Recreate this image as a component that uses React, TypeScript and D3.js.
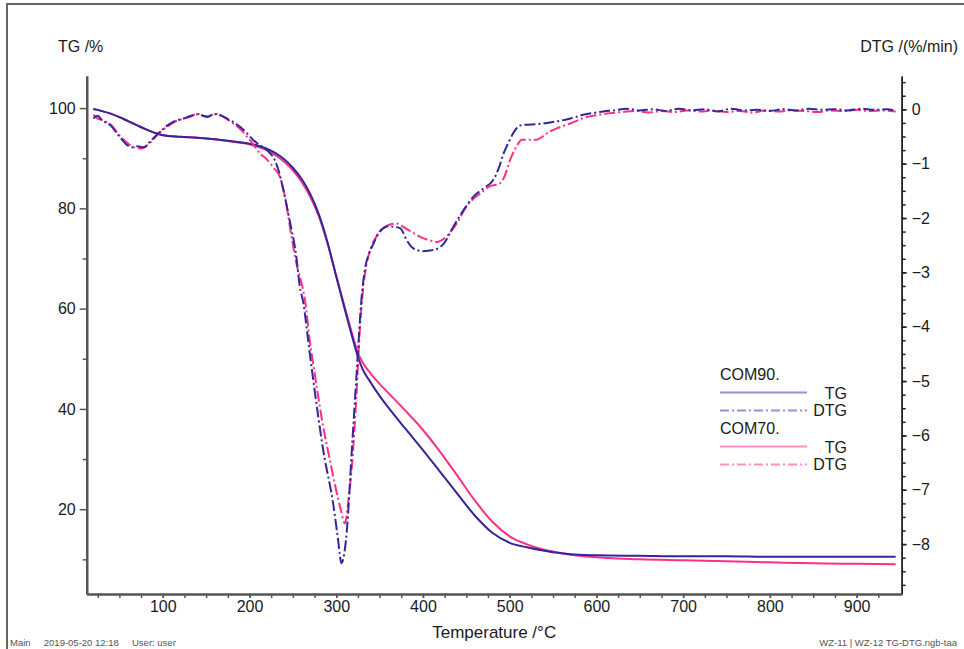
import React, { useEffect, useRef } from 'react';
import * as d3 from 'd3';

// TG grid (°C) and mass (%) for both samples
const tgTemp = [20, 30, 40, 50, 60, 70, 80, 90, 100, 120, 140, 160, 180, 200, 210, 220, 230, 240, 250, 260, 270, 280, 290, 300, 310, 320, 325, 330, 340, 350, 360, 380, 400, 420, 440, 460, 480, 500, 520, 540, 560, 580, 600, 650, 700, 750, 800, 850, 900, 945];
const tg90 = [99.8, 99.4, 98.9, 98.2, 97.4, 96.6, 95.8, 95.1, 94.6, 94.3, 94.1, 93.8, 93.4, 92.9, 92.5, 91.9, 91.0, 89.8, 88.1, 85.9, 82.9, 78.8, 73.2, 66.4, 59.8, 53.4, 50.4, 48.1, 45.2, 42.6, 40.3, 36.0, 31.8, 27.4, 23.0, 18.7, 15.3, 13.3, 12.4, 11.7, 11.2, 10.9, 10.8, 10.7, 10.6, 10.6, 10.5, 10.5, 10.5, 10.5];
const tg70 = [99.8, 99.4, 98.9, 98.2, 97.4, 96.6, 95.8, 95.1, 94.6, 94.3, 94.1, 93.8, 93.3, 92.8, 92.3, 91.6, 90.6, 89.3, 87.6, 85.3, 82.3, 78.4, 73.0, 66.6, 60.2, 54.0, 51.2, 49.4, 47.0, 45.0, 43.2, 39.6, 35.8, 31.4, 26.6, 21.7, 17.5, 14.6, 13.0, 11.9, 11.2, 10.7, 10.4, 10.0, 9.8, 9.6, 9.4, 9.2, 9.1, 9.0];

// DTG (%/min)
const dtg90Temp = [20, 25, 30, 40, 50, 60, 65, 70, 78, 85, 95, 105, 112, 124, 132, 139, 145, 151, 157, 162, 168, 174, 182, 189, 197, 204, 212, 220, 229, 234, 239, 247, 254, 258, 262, 268, 274, 285, 297, 302, 306, 309, 312, 318, 324, 329, 333, 338, 343, 348, 354, 360, 366, 374, 381, 389, 400, 412, 424, 435, 447, 458, 470, 481, 487, 493, 499, 504, 509, 514, 525, 539, 555, 570, 585, 600, 608, 620, 635, 650, 665, 680, 695, 710, 725, 740, 755, 770, 785, 800, 815, 830, 845, 860, 875, 890, 905, 920, 935, 945];
const dtg90 = [-0.17, -0.12, -0.2, -0.3, -0.5, -0.67, -0.7, -0.68, -0.7, -0.6, -0.44, -0.3, -0.23, -0.17, -0.12, -0.09, -0.11, -0.14, -0.1, -0.09, -0.12, -0.17, -0.24, -0.32, -0.44, -0.56, -0.66, -0.75, -0.93, -1.15, -1.48, -2.1, -2.71, -3.26, -3.55, -4.3, -5.04, -6.27, -7.31, -7.9, -8.35, -8.2, -7.8, -6.27, -4.74, -3.51, -2.95, -2.65, -2.47, -2.3, -2.19, -2.15, -2.16, -2.19, -2.4, -2.56, -2.61, -2.59, -2.47, -2.16, -1.85, -1.61, -1.45, -1.3, -1.1, -0.81, -0.6, -0.44, -0.33, -0.29, -0.28, -0.26, -0.22, -0.17, -0.1, -0.06, -0.04, -0.02, 0.01, -0.02, 0.0, -0.03, 0.01, -0.02, 0.0, -0.04, 0.01, -0.02, -0.01, -0.03, 0.0, -0.02, 0.01, -0.01, 0.0, -0.02, 0.01, -0.01, 0.0, -0.03];
const dtg70Temp = [20, 25, 30, 40, 50, 60, 67, 75, 85, 95, 105, 115, 125, 133, 140, 147, 153, 160, 167, 174, 182, 190, 198, 205, 212, 220, 228, 235, 242, 248, 255, 260, 264, 269, 274, 285, 292, 299, 305, 310, 314, 318, 323, 327, 331, 335, 340, 346, 352, 358, 364, 370, 376, 386, 400, 408, 416, 427, 439, 450, 458, 466, 477, 489, 493, 502, 508, 514, 522, 531, 538, 543, 556, 570, 589, 603, 616, 630, 645, 660, 675, 690, 705, 720, 735, 750, 765, 780, 795, 810, 825, 840, 855, 870, 885, 900, 915, 930, 945];
const dtg70 = [-0.1, -0.17, -0.2, -0.28, -0.48, -0.63, -0.7, -0.72, -0.62, -0.45, -0.32, -0.22, -0.17, -0.13, -0.08, -0.12, -0.13, -0.08, -0.11, -0.18, -0.27, -0.37, -0.52, -0.66, -0.81, -0.92, -1.08, -1.24, -1.7, -2.3, -2.9, -3.2, -3.51, -4.2, -4.74, -5.84, -6.4, -6.94, -7.35, -7.62, -7.2, -6.58, -5.35, -4.12, -3.3, -2.85, -2.55, -2.35, -2.22, -2.15, -2.11, -2.1, -2.15, -2.25, -2.37, -2.41, -2.44, -2.34, -2.1, -1.79, -1.65, -1.55, -1.42, -1.36, -1.27, -0.87, -0.68, -0.56, -0.56, -0.56, -0.5, -0.44, -0.34, -0.26, -0.14, -0.1, -0.07, -0.05, -0.03, -0.06, -0.03, -0.05, -0.02, -0.04, -0.02, -0.05, -0.03, -0.06, -0.02, -0.04, -0.02, -0.03, -0.05, -0.02, -0.03, -0.01, -0.03, -0.02, -0.04];

const xTicks = [100, 200, 300, 400, 500, 600, 700, 800, 900];
const tgTicks = [20, 40, 60, 80, 100];
const dtgTicks = [-8, -7, -6, -5, -4, -3, -2, -1, 0];

const samples = ['COM90.', 'COM70.'];
const colors = ['#35259a', '#ff2f86'];
const legendColors = ['#9a8fd0', '#ff8fc0'];

const FONT = '"Liberation Sans", Arial, sans-serif';
const DASH = '11,3,2,3';

const App = () => {
	const leftRef = useRef<SVGGElement>(null);
	const rightRef = useRef<SVGGElement>(null);
	const bottomRef = useRef<SVGGElement>(null);

	const top = 76, bottom = 594, left = 86.7, right = 901.7;

	const x = d3.scaleLinear().domain([12.3, 952]).range([left, right]);
	const yL = d3.scaleLinear().domain([3.09, 106.4]).range([bottom, top]);
	const yR = d3.scaleLinear().domain([-8.918, 0.613]).range([bottom, top]);

	useEffect(() => {
		const style = (g: any, w: number, c: string) => {
			g.select('.domain').attr('stroke', c).attr('stroke-width', w);
			g.selectAll('.tick line').attr('stroke', c).attr('stroke-width', 1.5);
			g.selectAll('text').attr('font-family', FONT).attr('font-size', 16).attr('fill', '#1a1a1a');
		};

		const gl = d3.select(leftRef.current);
		gl.selectAll('*').remove();
		gl.append('g').call(d3.axisLeft(yL).tickValues([10, 30, 50, 70, 90]).tickSize(4).tickSizeOuter(0).tickFormat(() => ''))
			.call((g: any) => style(g, 2.2, '#555'));
		gl.append('g').call(d3.axisLeft(yL).tickValues(tgTicks).tickSize(7).tickSizeOuter(0).tickPadding(4))
			.call((g: any) => style(g, 2.2, '#555'));

		const gr = d3.select(rightRef.current);
		gr.selectAll('*').remove();
		const minorR = d3.range(-35, 3).map((i) => i * 0.25);
		gr.append('g').call(d3.axisRight(yR).tickValues(minorR).tickSize(4).tickSizeOuter(0).tickFormat(() => ''))
			.call((g: any) => style(g, 1.5, '#222'));
		gr.append('g').call(d3.axisRight(yR).tickValues(dtgTicks).tickSize(5).tickSizeOuter(0).tickPadding(5))
			.call((g: any) => style(g, 1.5, '#222'));

		const gb = d3.select(bottomRef.current);
		gb.selectAll('*').remove();
		const minorX = d3.range(1, 38).map((i) => i * 25);
		gb.append('g').call(d3.axisBottom(x).tickValues(minorX).tickSize(4).tickSizeOuter(0).tickFormat(() => ''))
			.call((g: any) => style(g, 2.2, '#555'));
		gb.append('g').call(d3.axisBottom(x).tickValues(xTicks).tickSize(4).tickSizeOuter(0).tickPadding(3))
			.call((g: any) => style(g, 2.2, '#555'));
	}, []);

	const tgLine = d3.line<number>()
		.x((d, i) => x(tgTemp[i]))
		.y((d) => yL(d))
		.curve(d3.curveMonotoneX);

	const dtgLine = (temps: number[]) => d3.line<number>()
		.x((d, i) => x(temps[i]))
		.y((d) => yR(d))
		.curve(d3.curveMonotoneX);

	const legendX = 720;
	const legendY = [374, 428];

	return (
		<div>
			<style>{'body{margin:0;overflow:hidden}'}</style>
			<svg width={964} height={649} style={{ display: 'block' }} fontFamily={FONT}>
				<rect x={0} y={0} width={964} height={649} fill="#fff" />
				<path d="M7,660 L7,4 L970,4" fill="none" stroke="#666" strokeWidth={2} />

				<text x={58} y={52} fontSize={16} fill="#1a1a1a">TG /%</text>
				<text x={958} y={52} fontSize={16} fill="#1a1a1a" textAnchor="end">DTG /(%/min)</text>

				<path d={tgLine(tg70) || ''} fill="none" stroke={colors[1]} strokeWidth={2} />
				<path d={tgLine(tg90) || ''} fill="none" stroke={colors[0]} strokeWidth={2} />
				<path d={dtgLine(dtg70Temp)(dtg70) || ''} fill="none" stroke={colors[1]} strokeWidth={2} strokeDasharray={DASH} />
				<path d={dtgLine(dtg90Temp)(dtg90) || ''} fill="none" stroke={colors[0]} strokeWidth={2} strokeDasharray={DASH} />

				<g ref={leftRef} transform={`translate(${left},0)`} />
				<g ref={rightRef} transform={`translate(${right},0)`} />
				<g ref={bottomRef} transform={`translate(0,${bottom})`} />

				<text x={(left + right) / 2} y={638} fontSize={17} fill="#1a1a1a" textAnchor="middle">Temperature /°C</text>

				{samples.map((s, i) => (
					<g key={s}>
						<text x={legendX} y={legendY[i] + 6} fontSize={16} fill="#1a1a1a">{s}</text>
						<line x1={legendX} x2={807} y1={legendY[i] + 18.5} y2={legendY[i] + 18.5} stroke={legendColors[i]} strokeWidth={2} />
						<text x={847} y={legendY[i] + 25} fontSize={16} fill="#1a1a1a" textAnchor="end">TG</text>
						<line x1={legendX} x2={807} y1={legendY[i] + 36.5} y2={legendY[i] + 36.5} stroke={legendColors[i]} strokeWidth={2} strokeDasharray="9,3,2,3" />
						<text x={847} y={legendY[i] + 42} fontSize={16} fill="#1a1a1a" textAnchor="end">DTG</text>
					</g>
				))}

				<text x={10} y={646} fontSize={9.5} fill="#555" xmlSpace="preserve">Main     2019-05-20 12:18     User: user</text>
				<text x={957} y={646} fontSize={9.5} fill="#555" textAnchor="end">WZ-11 | WZ-12 TG-DTG.ngb-taa</text>
			</svg>
		</div>
	);
};

export default App;
